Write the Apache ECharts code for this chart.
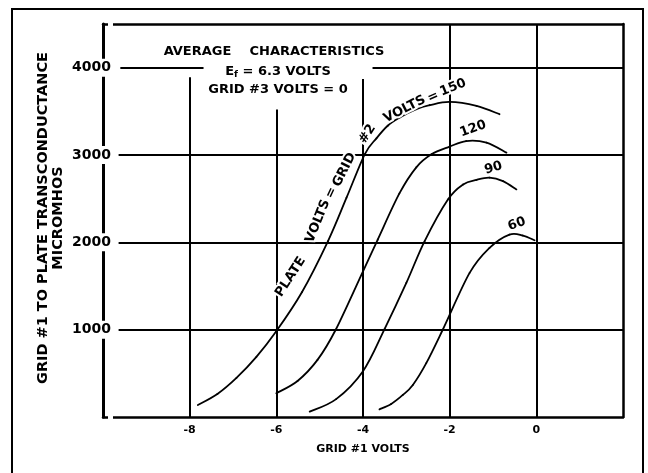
<!DOCTYPE html>
<html><head><meta charset="utf-8">
<script src="https://cdn.jsdelivr.net/npm/echarts@6/dist/echarts.min.js"></script>
<style>html,body{margin:0;padding:0;background:#fff}#c{width:648px;height:473px}</style>
</head><body><div id="c"></div>
<script>
// ---- data ----
const xTicks = [-8, -6, -4, -2, 0];
const yTicks = [1000, 2000, 3000, 4000];

const v150X = [-7.81, -7.36, -6.92, -6.46, -6.01, -5.41, -4.81, -4.38, -3.96, -3.69, -3.43, -3.15, -2.77, -2.46, -2.0, -1.38, -0.85];
const v150Y = [138, 264, 448, 689, 976, 1429, 2012, 2511, 3008, 3191, 3335, 3429, 3524, 3570, 3608, 3562, 3467];

const v120X = [-6.0, -5.51, -5.05, -4.63, -4.0, -3.66, -3.16, -2.77, -2.42, -2.0, -1.62, -1.15, -0.69];
const v120Y = [272, 413, 654, 999, 1668, 2032, 2560, 2859, 3008, 3096, 3160, 3142, 3027];

const v90X = [-5.23, -4.62, -4.0, -3.5, -3.0, -2.58, -2.04, -1.69, -1.38, -1.08, -0.77, -0.46];
const v90Y = [61, 205, 525, 1010, 1535, 2012, 2491, 2663, 2715, 2740, 2701, 2606];

const v60X = [-3.62, -3.35, -3.08, -2.85, -2.54, -2.16, -1.54, -1.08, -0.62, -0.31, -0.04];
const v60Y = [88, 150, 253, 367, 617, 999, 1650, 1937, 2089, 2078, 2024];

// grid lines as drawn on the original sheet (some are interrupted by lettering)
const vGridX = [-8, -6, -4, -2, 0];
const vGridTop = [3890, 3520, 3870, 4500, 4500];
const hGridY = [4000, 4000, 3000, 2000, 1000];
const hGridFrom = [-9.6, -3.78, -9.64, -9.64, -9.64];
const hGridTo = [-7.68, 2, 2, 2, 2];

// curve annotations
const tagText = ['120', '90', '60'];
const tagX = [-1.46, -0.99, -0.45];
const tagY = [3300, 2850, 2210];
const tagRot = [20, 16, 20];

const ctText = ['PLATE', 'VOLTS', '=', 'GRID', '#2', 'VOLTS', '=', '150'];
const ctX = [-5.67, -5.04, -4.73, -4.43, -3.9, -3.04, -2.38, -1.92];
const ctY = [1604, 2242, 2567, 2830, 3240, 3524, 3665, 3773];
const ctRot = [57, 68, 65, 63, 57, 27, 24, 22];

const FONT = '"DejaVu Sans", "Liberation Sans", sans-serif';
const chart = echarts.init(document.getElementById('c'));

function pairs(xs, ys) { return xs.map((x, i) => [x, ys[i]]); }

// smooth curve through the read points (Catmull-Rom segments, positioned by the axes)
function makeCurve(xs, ys) {
  const pts = pairs(xs, ys);
  const n = pts.length;
  return {
    type: 'custom', data: pts, z: 10, silent: true,
    encode: { x: 0, y: 1 },
    renderItem: function (params, api) {
      const i = params.dataIndex;
      if (i >= n - 1) return null;
      const c = k => api.coord(pts[Math.max(0, Math.min(n - 1, k))]);
      const p0 = c(i - 1), p1 = c(i), p2 = c(i + 1), p3 = c(i + 2);
      const t = 1 / 6;
      return {
        type: 'bezierCurve',
        shape: {
          x1: p1[0], y1: p1[1], x2: p2[0], y2: p2[1],
          cpx1: p1[0] + (p2[0] - p0[0]) * t, cpy1: p1[1] + (p2[1] - p0[1]) * t,
          cpx2: p2[0] - (p3[0] - p1[0]) * t, cpy2: p2[1] - (p3[1] - p1[1]) * t
        },
        style: { stroke: '#000', lineWidth: 1.8, fill: null, lineCap: 'round' }
      };
    }
  };
}

const curves = [[v150X, v150Y], [v120X, v120Y], [v90X, v90Y], [v60X, v60Y]].map(([xs, ys]) => makeCurve(xs, ys));

const gridLines = [];
vGridX.forEach((x, i) => gridLines.push([{ coord: [x, 0] }, { coord: [x, vGridTop[i]] }]));
hGridY.forEach((y, i) => gridLines.push([{ coord: [hGridFrom[i], y] }, { coord: [hGridTo[i], y] }]));

chart.setOption({
  animation: false,
  backgroundColor: '#fff',
  grid: { left: 103, right: 25, top: 24, bottom: 56, show: false },
  xAxis: [{
    type: 'value', min: -10, max: 2, interval: 2,
    axisLine: { show: true, onZero: false, lineStyle: { color: '#000', width: 2.5 } },
    axisTick: { show: false }, splitLine: { show: false },
    axisLabel: {
      color: '#000', fontFamily: FONT, fontWeight: 'bold', fontSize: 11, margin: 8,
      formatter: v => xTicks.indexOf(v) >= 0 ? String(v) : ''
    },
    name: 'GRID #1 VOLTS', nameLocation: 'middle', nameGap: 27,
    nameTextStyle: { color: '#000', fontFamily: FONT, fontWeight: 'bold', fontSize: 11 }
  }, {
    type: 'value', min: -10, max: 2, position: 'top',
    axisLine: { show: true, onZero: false, lineStyle: { color: '#000', width: 2.5 } },
    axisTick: { show: false }, splitLine: { show: false }, axisLabel: { show: false }
  }],
  yAxis: [{
    type: 'value', min: 0, max: 4500, interval: 1000,
    axisLine: { show: true, onZero: false, lineStyle: { color: '#000', width: 3 } },
    axisTick: { show: false }, splitLine: { show: false },
    axisLabel: {
      color: '#000', fontFamily: FONT, fontWeight: 'bold', fontSize: 14, margin: -10,
      backgroundColor: '#fff', padding: [2, 2, 2, 3],
      formatter: v => yTicks.indexOf(v) >= 0 ? String(v) : ''
    }
  }, {
    type: 'value', min: 0, max: 4500, position: 'right',
    axisLine: { show: true, onZero: false, lineStyle: { color: '#000', width: 2.5 } },
    axisTick: { show: false }, splitLine: { show: false }, axisLabel: { show: false }
  }],
  series: [{
    type: 'line', data: [], silent: true, z: 1,
    markLine: {
      silent: true, symbol: 'none', z: 1, animation: false,
      label: { show: false },
      lineStyle: { color: '#000', width: 2, type: 'solid' },
      data: gridLines
    }
  }].concat(curves)
});

function px(x, y) { return chart.convertToPixel({ gridIndex: 0 }, [x, y]); }

const g = [];
g.push({ type: 'rect', shape: { x: 12, y: 9, width: 631, height: 470 }, style: { fill: 'none', stroke: '#000', lineWidth: 2 }, z: 0, silent: true });

g.push({ type: 'text', x: 274, y: 52, z: 30, style: { text: 'AVERAGE    CHARACTERISTICS', font: 'bold 13px ' + FONT, fill: '#000', align: 'center', verticalAlign: 'middle', backgroundColor: '#fff', padding: [2, 4] } });
g.push({ type: 'text', x: 278, y: 72, z: 30, style: {
  text: 'E{s|f} = 6.3 VOLTS', font: 'bold 13px ' + FONT, fill: '#000', align: 'center', verticalAlign: 'middle',
  rich: { s: { font: 'bold 9px ' + FONT, fill: '#000', padding: [6, 0, 0, 0] } } } });
g.push({ type: 'text', x: 278, y: 90, z: 30, style: { text: 'GRID #3 VOLTS = 0', font: 'bold 13px ' + FONT, fill: '#000', align: 'center', verticalAlign: 'middle' } });

g.push({ type: 'text', x: 51, y: 218, rotation: Math.PI / 2, z: 30, style: {
  text: 'GRID #1 TO PLATE TRANSCONDUCTANCE\nMICROMHOS', font: 'bold 14.5px ' + FONT, fill: '#000',
  align: 'center', verticalAlign: 'middle', lineHeight: 15 } });

ctText.forEach((t, i) => {
  const p = px(ctX[i], ctY[i]);
  g.push({ type: 'text', x: p[0], y: p[1], rotation: ctRot[i] * Math.PI / 180, z: 30, style: {
    text: t, font: 'bold 13px ' + FONT, fill: '#000', stroke: '#fff', lineWidth: 4, align: 'center', verticalAlign: 'middle' } });
});
tagText.forEach((t, i) => {
  const p = px(tagX[i], tagY[i]);
  g.push({ type: 'text', x: p[0], y: p[1], rotation: tagRot[i] * Math.PI / 180, z: 30, style: {
    text: t, font: 'bold 13px ' + FONT, fill: '#000', stroke: '#fff', lineWidth: 4, align: 'center', verticalAlign: 'middle' } });
});

chart.setOption({ graphic: g });
</script>
</body></html>
